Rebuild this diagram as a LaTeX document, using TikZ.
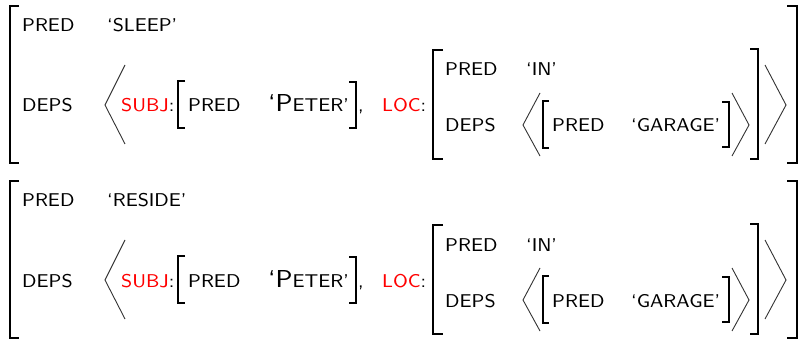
\documentclass[tikz,border=0pt]{standalone}
\usepackage{fontspec}
\newfontfamily\avmfont{lmsans8-regular.otf}[FakeStretch=1.02]
% square brackets: x, top, bottom, tick length
\newcommand\avmlbr[4]{\draw[brk] (#1+#4,#2) -- (#1,#2) -- (#1,#3) -- (#1+#4,#3);}
\newcommand\avmrbr[4]{\draw[brk] (#1-#4,#2) -- (#1,#2) -- (#1,#3) -- (#1-#4,#3);}
% angle brackets: outer x, tip x, top, tip y, bottom
\newcommand\avmang[5]{\draw[ang] (#1,#3) -- (#2,#4) -- (#1,#5);}
\newcommand\avmcap[1]{{\fontsize{24.5}{24}\avmfont #1}}
\begin{document}
\begin{tikzpicture}[x=1pt,y=-1pt,
  feat/.style={inner sep=0pt, anchor=base west, font={\fontsize{18.5}{20}\avmfont}},
  brk/.style={line width=1.2pt, black},
  ang/.style={line width=0.9pt, black!80},
]
\useasboundingbox (0,0) rectangle (800,339);
\foreach \dy/\verbval/\tg in {0/SLEEP/a, 175/RESIDE/b}{
\begin{scope}[shift={(0,\dy)}]
  % outer matrix
  \avmlbr{10}{6}{163}{9}
  \avmrbr{797}{6}{163}{10}
  \node[feat] (pred1\tg) at (22,32) {PRED};
  \node[feat] (val1\tg) at (107,32) {‘\verbval’};
  \node[feat] (deps1\tg) at (22,112) {DEPS};
  \avmang{125}{105}{65}{105}{144}
  \avmang{765}{786}{65}{105}{144}
  % subject
  \node[feat] (subj\tg) at (121,112) {\textcolor{red}{SUBJ}:};
  \avmlbr{178}{81}{128}{7}
  \node[feat] (pred2\tg) at (188,112) {PRED};
  \node[feat] (peter\tg) at (268,112) {\avmcap{‘P}ETER’};
  \avmrbr{356}{82}{128}{7}
  \node[feat] (comma\tg) at (358,112) {,};
  % location
  \node[feat] (loc\tg) at (382,112) {\textcolor{red}{LOC}:};
  \avmlbr{433}{50}{159}{10}
  \node[feat] (pred3\tg) at (445,76) {PRED};
  \node[feat] (in\tg) at (526,76) {‘IN’};
  \node[feat] (deps3\tg) at (445,132) {DEPS};
  \avmang{540}{523}{93}{125}{156}
  \avmlbr{543}{101}{148}{6}
  \node[feat] (pred4\tg) at (552,132) {PRED};
  \node[feat] (garage\tg) at (631,132) {‘GARAGE’};
  \avmrbr{729}{102}{147}{7}
  \avmang{732}{749}{93}{125}{156}
  \avmrbr{758}{49}{159}{8}
\end{scope}
}
\end{tikzpicture}
\end{document}
